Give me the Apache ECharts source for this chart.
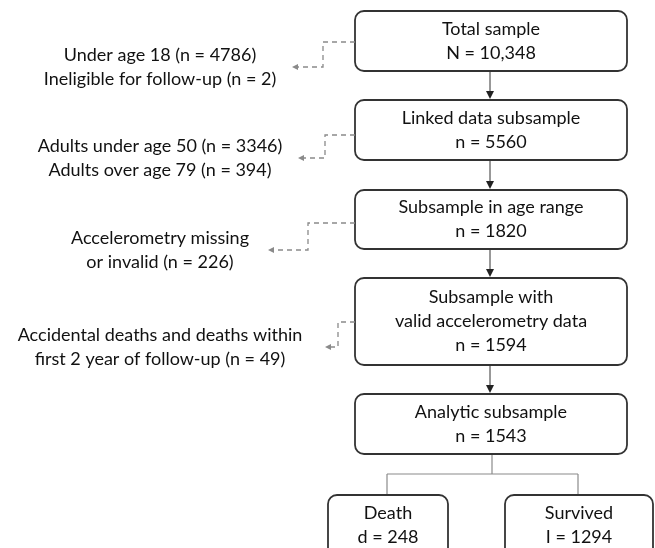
<!DOCTYPE html>
<html><head><meta charset="utf-8">
<script src="https://cdn.jsdelivr.net/npm/echarts/dist/echarts.min.js"></script>
<style>html,body{margin:0;padding:0;background:#fff}#c{width:655px;height:548px}</style>
</head><body><div id="c"></div>
<script>
// ---- data ----
const stepTitles = ['Total sample', 'Linked data subsample', 'Subsample in age range', 'Subsample with\nvalid accelerometry data', 'Analytic subsample'];
const stepCounts = ['N = 10,348', 'n = 5560', 'n = 1820', 'n = 1594', 'n = 1543'];
const exclusionTexts = [
  'Under age 18 (n = 4786)\nIneligible for follow-up (n = 2)',
  'Adults under age 50 (n = 3346)\nAdults over age 79 (n = 394)',
  'Accelerometry missing\nor invalid (n = 226)',
  'Accidental deaths and deaths within\nfirst 2 year of follow-up (n = 49)'
];
const outcomeTitles = ['Death', 'Survived'];
const outcomeCounts = ['d = 248', 'I = 1294'];

// ---- layout (axis units = pixels of the reference) ----
const stepLayout = { x0: 355, x1: 627, tops: [11, 100, 190, 278, 394], bottoms: [71, 160, 249, 365, 454] };
const exclLayout = [
  { from: 42, elbow: 323, to: 67, tip: 292 },
  { from: 135, elbow: 325, to: 158, tip: 298 },
  { from: 223, elbow: 308, to: 250, tip: 268 },
  { from: 322, elbow: 338, to: 347, tip: 325 }
];
const exclTextX = 160;
const outLayout = { boxes: [[328, 448], [505, 653]], top: 495, bottom: 568, textY: 525, stemX: 492, barY: 474, drops: [387, 578] };

const FONT = '18px Lato';
const TXT = '#111';
const BOX = '#333';
const DASH = '#8a8a8a';

function arrowDown(api, x, y, color) {
  const p = api.coord([x, y]);
  return { type: 'polygon', shape: { points: [[p[0] - 4, p[1] - 8], [p[0] + 4, p[1] - 8], [p[0], p[1]]] }, style: { fill: color } };
}
function arrowLeft(api, x, y, color) {
  const p = api.coord([x, y]);
  return { type: 'polygon', shape: { points: [[p[0] + 6, p[1] - 3], [p[0] + 6, p[1] + 3], [p[0], p[1]]] }, style: { fill: color } };
}

const stepSeries = {
  type: 'custom', coordinateSystem: 'cartesian2d', clip: false,
  data: stepTitles.map((t, i) => ({ value: [i, 0], name: t + '\n' + stepCounts[i] })),
  renderItem: function (params, api) {
    const i = params.dataIndex;
    const a = api.coord([stepLayout.x0, stepLayout.tops[i]]);
    const b = api.coord([stepLayout.x1, stepLayout.bottoms[i]]);
    const children = [
      { type: 'rect', shape: { x: a[0], y: a[1], width: b[0] - a[0], height: b[1] - a[1], r: 9 }, style: { fill: '#fff', stroke: BOX, lineWidth: 1.8 } },
      { type: 'text', style: { text: stepTitles[i] + '\n' + stepCounts[i], x: (a[0] + b[0]) / 2, y: (a[1] + b[1]) / 2, align: 'center', verticalAlign: 'middle', font: FONT, fill: TXT, lineHeight: 24 } }
    ];
    if (i < stepTitles.length - 1) {
      const cx = (stepLayout.x0 + stepLayout.x1) / 2 - 1;
      const s = api.coord([cx, stepLayout.bottoms[i]]);
      const e = api.coord([cx, stepLayout.tops[i + 1]]);
      children.push({ type: 'line', shape: { x1: s[0], y1: s[1], x2: e[0], y2: e[1] - 6 }, style: { stroke: '#333', lineWidth: 1 } });
      children.push(arrowDown(api, cx, stepLayout.tops[i + 1] - 1, '#222'));
    }
    return { type: 'group', children: children };
  }
};

const exclSeries = {
  type: 'custom', coordinateSystem: 'cartesian2d', clip: false,
  data: exclusionTexts.map((t, i) => ({ value: [i, 0], name: t })),
  renderItem: function (params, api) {
    const i = params.dataIndex;
    const L = exclLayout[i];
    const p1 = api.coord([stepLayout.x0, L.from]);
    const p2 = api.coord([L.elbow, L.from]);
    const p3 = api.coord([L.elbow, L.to]);
    const p4 = api.coord([L.tip + 5, L.to]);
    const tc = api.coord([exclTextX, L.to]);
    return {
      type: 'group', children: [
        { type: 'polyline', shape: { points: [p1, p2, p3, p4] }, style: { stroke: DASH, lineWidth: 1.3, lineDash: [5, 4], fill: null } },
        arrowLeft(api, L.tip, L.to, DASH),
        { type: 'text', style: { text: exclusionTexts[i], x: tc[0], y: tc[1], align: 'center', verticalAlign: 'middle', font: FONT, fill: TXT, lineHeight: 24 } }
      ]
    };
  }
};

const outSeries = {
  type: 'custom', coordinateSystem: 'cartesian2d', clip: false,
  data: outcomeTitles.map((t, i) => ({ value: [i, 0], name: t + '\n' + outcomeCounts[i] })),
  renderItem: function (params, api) {
    const i = params.dataIndex;
    const bx = outLayout.boxes[i];
    const a = api.coord([bx[0], outLayout.top]);
    const b = api.coord([bx[1], outLayout.bottom]);
    const t = api.coord([(bx[0] + bx[1]) / 2, outLayout.textY]);
    const d0 = api.coord([outLayout.drops[i], outLayout.barY]);
    const d1 = api.coord([outLayout.drops[i], outLayout.top]);
    const children = [
      { type: 'line', shape: { x1: d0[0], y1: d0[1], x2: d1[0], y2: d1[1] }, style: { stroke: '#8a8a8a', lineWidth: 1.2 } },
      { type: 'rect', shape: { x: a[0], y: a[1], width: b[0] - a[0], height: b[1] - a[1], r: 9 }, style: { fill: '#fff', stroke: BOX, lineWidth: 1.8 } },
      { type: 'text', style: { text: outcomeTitles[i] + '\n' + outcomeCounts[i], x: t[0], y: t[1], align: 'center', verticalAlign: 'middle', font: FONT, fill: TXT, lineHeight: 24 } }
    ];
    if (i === 0) {
      const s0 = api.coord([outLayout.stemX, stepLayout.bottoms[stepLayout.bottoms.length - 1]]);
      const s1 = api.coord([outLayout.stemX, outLayout.barY]);
      const h0 = api.coord([outLayout.drops[0], outLayout.barY]);
      const h1 = api.coord([outLayout.drops[1], outLayout.barY]);
      children.unshift(
        { type: 'line', shape: { x1: s0[0], y1: s0[1], x2: s1[0], y2: s1[1] }, style: { stroke: '#8a8a8a', lineWidth: 1.2 } },
        { type: 'line', shape: { x1: h0[0], y1: h0[1], x2: h1[0], y2: h1[1] }, style: { stroke: '#8a8a8a', lineWidth: 1.2 } }
      );
    }
    return { type: 'group', children: children };
  }
};

const chart = echarts.init(document.getElementById('c'), null, { renderer: 'canvas' });
chart.setOption({
  animation: false,
  backgroundColor: '#fff',
  grid: { left: 0, right: 0, top: 0, bottom: 0 },
  xAxis: { type: 'value', min: 0, max: 655, show: false },
  yAxis: { type: 'value', min: 0, max: 548, inverse: true, show: false },
  series: [outSeries, stepSeries, exclSeries]
});
</script></body></html>
